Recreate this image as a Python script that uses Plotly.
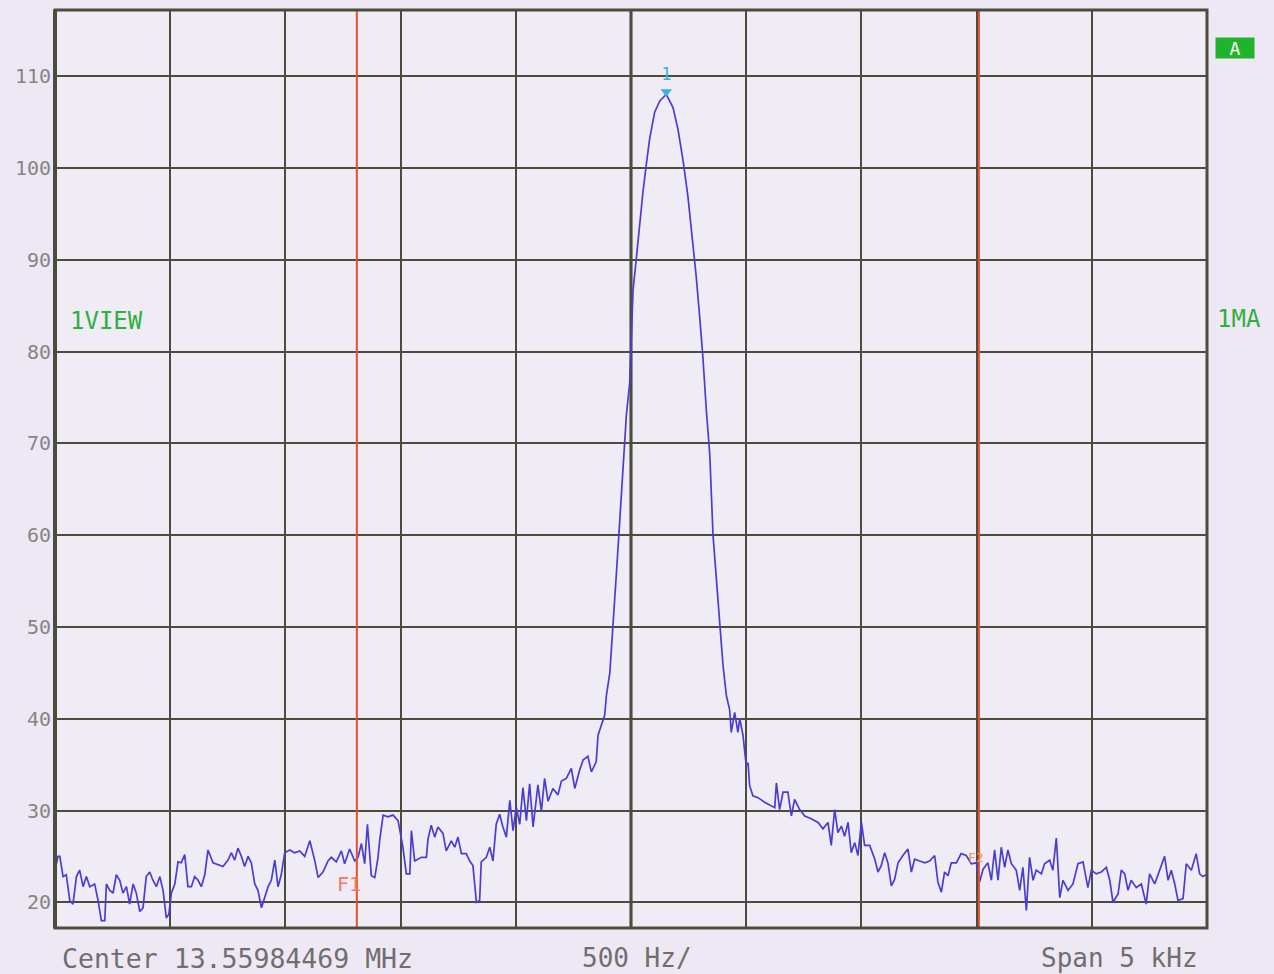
import plotly.graph_objects as go

# Frequency offset from centre (Hz) and level (dBuV)
freq_hz = [
    -2500, -2487, -2479, -2465, -2451, -2436, -2422, -2407, -2393, -2378, -2364, -2349,
    -2328, -2313, -2299, -2284, -2277, -2262, -2248, -2234, -2219, -2205, -2190, -2176,
    -2161, -2147, -2132, -2118, -2104, -2089, -2075, -2060, -2045, -2031, -2017, -2006,
    -1995, -1980, -1966, -1952, -1937, -1923, -1908, -1894, -1879, -1865, -1850, -1836,
    -1814, -1792, -1771, -1749, -1735, -1720, -1706, -1691, -1677, -1662, -1648, -1633,
    -1619, -1604, -1590, -1575, -1561, -1546, -1532, -1518, -1503, -1481, -1460, -1438,
    -1416, -1394, -1373, -1358, -1337, -1315, -1301, -1279, -1257, -1243, -1221, -1199,
    -1185, -1170, -1156, -1144, -1127, -1112, -1098, -1091, -1076, -1055, -1033, -1011,
    -990, -975, -960, -953, -939, -910, -888, -881, -867, -852, -838, -816,
    -802, -780, -765, -751, -736, -715, -700, -686, -671, -657, -650, -628,
    -613, -599, -585, -570, -556, -541, -526, -512, -498, -483, -469, -454,
    -440, -425, -404, -389, -375, -360, -339, -317, -302, -281, -259, -244,
    -223, -208, -187, -172, -151, -143, -114, -107, -92, -78, -64, -49,
    -35, -20, -6, 1, 9, 23, 38, 52, 66, 81, 103, 125,
    153, 182, 204, 226, 247, 269, 283, 298, 312, 327, 342, 356,
    370, 385, 399, 414, 428, 435, 450, 464, 472, 486, 500, 508,
    515, 529, 551, 580, 624, 631, 645, 660, 681, 696, 710, 732,
    754, 782, 812, 833, 855, 869, 884, 898, 913, 927, 942, 956,
    971, 985, 1000, 1014, 1036, 1058, 1072, 1086, 1101, 1115, 1130, 1144,
    1159, 1180, 1202, 1217, 1231, 1253, 1275, 1296, 1318, 1332, 1347, 1361,
    1376, 1390, 1412, 1433, 1455, 1477, 1499, 1513, 1528, 1549, 1564, 1578,
    1593, 1607, 1622, 1636, 1651, 1672, 1687, 1701, 1716, 1730, 1745, 1759,
    1781, 1795, 1817, 1831, 1846, 1861, 1875, 1897, 1918, 1940, 1962, 1983,
    1998, 2019, 2041, 2063, 2078, 2092, 2114, 2128, 2143, 2157, 2171, 2193,
    2215, 2236, 2251, 2273, 2295, 2316, 2331, 2345, 2360, 2374, 2396, 2410,
    2432, 2453, 2468, 2482, 2496,
]
level_dbuv = [
    23.5, 25.0, 25.0, 22.8, 23.0, 20.2, 19.8, 22.8, 23.5, 21.7, 22.8, 21.7,
    22.0, 20.2, 18.0, 18.0, 22.0, 21.3, 21.0, 23.0, 22.4, 21.0, 21.7, 19.8,
    22.0, 21.0, 19.0, 19.4, 22.8, 23.3, 22.4, 21.7, 22.8, 21.3, 18.3, 18.7,
    21.0, 22.0, 24.4, 24.3, 25.2, 21.7, 21.7, 22.8, 22.4, 21.7, 23.0, 25.7,
    24.3, 24.1, 23.9, 24.6, 25.4, 24.6, 25.9, 25.0, 23.9, 25.0, 24.3, 22.0,
    21.3, 19.4, 20.6, 21.7, 22.4, 24.6, 21.7, 23.0, 25.4, 25.7, 25.4, 25.6,
    25.0, 26.7, 24.6, 22.7, 23.3, 24.5, 24.9, 24.4, 25.6, 24.2, 25.8, 24.5,
    24.9, 26.4, 24.2, 28.5, 22.9, 22.7, 24.9, 26.7, 29.5, 29.3, 29.5, 28.9,
    26.0, 23.1, 23.1, 27.8, 24.5, 24.9, 24.9, 26.9, 28.4, 27.1, 28.2, 27.5,
    25.6, 26.7, 26.0, 27.1, 25.3, 25.3, 24.5, 24.0, 20.0, 20.2, 24.4, 24.9,
    26.0, 24.5, 28.5, 29.6, 28.2, 27.1, 31.1, 27.8, 30.4, 28.5, 32.5, 28.9,
    32.9, 28.2, 32.8, 29.9, 33.5, 31.0, 32.4, 31.7, 33.2, 33.5, 34.6, 32.4,
    34.4, 35.5, 35.9, 34.2, 35.3, 38.2, 40.4, 42.5, 45.0, 49.8, 55.6, 61.5,
    67.8, 73.1, 76.5, 82.3, 86.7, 90.1, 94.0, 97.4, 100.3, 103.2, 106.1, 107.3,
    108.0, 106.6, 104.2, 100.8, 96.9, 92.0, 88.2, 83.8, 79.4, 73.6, 68.7, 60.0,
    55.6, 50.2, 45.9, 42.5, 41.0, 38.5, 40.7, 38.5, 40.0, 38.2, 34.9, 35.2,
    32.7, 31.6, 31.4, 30.9, 30.3, 33.0, 30.1, 32.0, 32.0, 29.4, 31.2, 30.1,
    29.4, 29.1, 28.7, 28.0, 28.7, 26.2, 30.1, 27.6, 28.3, 27.2, 28.7, 25.4,
    26.5, 25.1, 28.7, 26.2, 26.2, 24.7, 23.3, 24.0, 25.4, 24.3, 21.8, 22.5,
    24.3, 25.1, 25.8, 23.3, 24.7, 24.5, 24.3, 24.5, 25.1, 22.2, 21.1, 23.3,
    22.9, 24.3, 24.3, 25.3, 25.1, 24.2, 24.3, 22.2, 23.6, 24.3, 22.4, 25.7,
    22.4, 26.0, 23.8, 25.7, 24.2, 23.5, 21.3, 23.8, 19.1, 24.9, 22.4, 23.5,
    23.1, 24.2, 24.6, 23.5, 27.0, 20.5, 22.4, 21.3, 22.0, 24.2, 24.4, 21.6,
    23.5, 23.1, 23.3, 23.8, 22.4, 20.0, 20.9, 23.5, 23.1, 21.3, 22.4, 21.6,
    22.0, 19.8, 23.1, 22.0, 23.5, 25.0, 22.4, 23.5, 22.0, 20.2, 20.4, 24.2,
    23.5, 25.3, 23.1, 22.8, 23.0,
]

y_ticks = [20, 30, 40, 50, 60, 70, 80, 90, 100, 110]
x_grid = [-2500, -2000, -1500, -1000, -500, 0, 500, 1000, 1500, 2000, 2500]
marker_freq = [153]
marker_level = [108.0]
marker_label = ["1"]
f_lines = [-1190, 1510]
f_labels = ["F1", "F2"]

grid_col = "#4d4b3c"
mono = "DejaVu Sans Mono"

fig = go.Figure()
fig.add_trace(go.Scatter(
    x=freq_hz, y=level_dbuv, mode="lines",
    line=dict(color="#4a3ed2", width=1.7), hoverinfo="skip", showlegend=False,
))

# F1 / F2 frequency lines
for f in f_lines:
    fig.add_shape(type="line", xref="x", yref="y domain", x0=f, x1=f, y0=0, y1=1,
                  line=dict(color="#e5502c", width=2), layer="above")

# Marker 1
fig.add_trace(go.Scatter(
    x=marker_freq, y=[marker_level[0] + 0.3], mode="markers+text",
    marker=dict(symbol="triangle-down", size=10, color="#38b4dc"),
    text=marker_label, textposition="top center",
    textfont=dict(color="#38b4dc", size=17, family=mono),
    hoverinfo="skip", showlegend=False,
))

# Border
fig.add_shape(type="rect", xref="x domain", yref="y domain", x0=0, x1=1, y0=0, y1=1,
              line=dict(color=grid_col, width=3), layer="above")
fig.add_shape(type="line", xref="x domain", yref="y domain", x0=0, x1=0, y0=0, y1=1,
              line=dict(color=grid_col, width=4), layer="above")
fig.add_shape(type="line", xref="x", yref="y domain", x0=0, x1=0, y0=0, y1=1,
              line=dict(color="#3a3628", width=3), layer="below")

fig.update_layout(
    width=1274, height=974,
    margin=dict(l=55, r=67, t=10, b=46),
    paper_bgcolor="#ede8f3",
    plot_bgcolor="#f0ecf6",
    font=dict(family=mono, color="#7c7c7c"),
    xaxis=dict(
        range=[-2500, 2500], tickvals=x_grid, showticklabels=False, ticks="",
        showgrid=True, gridcolor=grid_col, gridwidth=2, zeroline=False,
        showline=False, fixedrange=True,
    ),
    yaxis=dict(
        range=[17.2, 117.2], tickvals=y_ticks, ticktext=[str(v) for v in y_ticks],
        showgrid=True, gridcolor=grid_col, gridwidth=2, zeroline=False,
        ticks="", ticklabelstandoff=3,
        tickfont=dict(family=mono, size=20, color="#858585"),
        showline=False, fixedrange=True,
    ),
)

# Labels F1 / F2
fig.add_annotation(x=-1225, y=22.0, xref="x", yref="y", text=f_labels[0], showarrow=False,
                   font=dict(family=mono, size=20, color="#f07a66"))
fig.add_annotation(x=1497, y=24.9, xref="x", yref="y", text=f_labels[1], showarrow=False,
                   font=dict(family=mono, size=13, color="#f0944a"))

# Screen texts
fig.add_annotation(x=0.0043, y=-0.0327, xref="paper", yref="paper", xanchor="left",
                   yanchor="middle", text="Center 13.55984469 MHz", showarrow=False,
                   font=dict(family=mono, size=26.5, color="#6f6f6f"))
fig.add_annotation(x=0.4557, y=-0.0327, xref="paper", yref="paper", xanchor="left",
                   yanchor="middle", text="500 Hz/", showarrow=False,
                   font=dict(family=mono, size=26, color="#6f6f6f"))
fig.add_annotation(x=0.9939, y=-0.0327, xref="paper", yref="paper", xanchor="right",
                   yanchor="middle", text="Span 5 kHz", showarrow=False,
                   font=dict(family=mono, size=26, color="#6f6f6f"))
fig.add_annotation(x=0.0113, y=0.6612, xref="paper", yref="paper", xanchor="left",
                   yanchor="middle", text="1VIEW", showarrow=False,
                   font=dict(family=mono, size=24, color="#2eb03a"))
fig.add_annotation(x=1.0069, y=0.6634, xref="paper", yref="paper", xanchor="left",
                   yanchor="middle", text="1MA", showarrow=False,
                   font=dict(family=mono, size=24, color="#2eb03a"))
fig.add_annotation(x=1.0243, y=0.9586, xref="paper", yref="paper", xanchor="center",
                   yanchor="middle", text="A", showarrow=False, bgcolor="#1fb42c",
                   width=36, height=18, borderpad=1,
                   font=dict(family=mono, size=18, color="#ffffff"))

fig.write_html("out.html")
